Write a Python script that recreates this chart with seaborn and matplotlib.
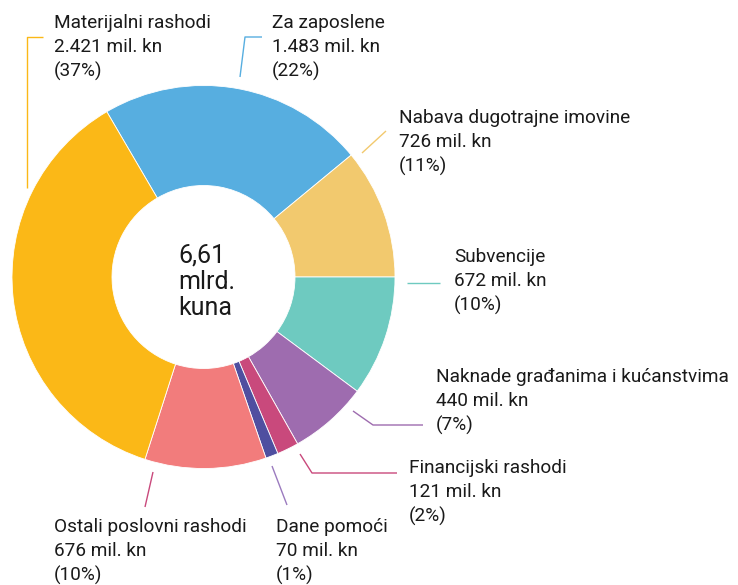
import matplotlib
matplotlib.use("Agg")
import matplotlib.pyplot as plt
import seaborn as sns

# data (clockwise from the top)
categories = ["Za zaposlene", "Nabava dugotrajne imovine", "Subvencije",
              "Naknade građanima i kućanstvima", "Financijski rashodi",
              "Dane pomoći", "Ostali poslovni rashodi", "Materijalni rashodi"]
values = [1483, 726, 672, 440, 121, 70, 676, 2421]  # mil. kn
colors = ["#57aee0", "#f2c96e", "#6ecac0", "#9e6caf", "#c9497c",
          "#4f4fa0", "#f27c7c", "#fbb817"]
leader_colors = ["#57aee0", "#f2c96e", "#6ecac0", "#9e6caf", "#c9497c",
                 "#9b7bbf", "#c9497c", "#fbb817"]

W, H = 738, 585
CX, CY, R, R_IN = 203.5, 277, 191.5, 91.5

# label layout in pixels: text x, first baseline, leader path
label_x = [272, 399, 454, 436, 409, 276, 54, 54]
label_y = [28, 123, 262, 382, 473, 532, 532, 28]
leaders = [
    [(262, 37), (245, 37), (240, 77)],
    [(386, 131), (362, 153)],
    [(407, 283), (440, 283)],
    [(353, 411), (373, 425), (423, 425)],
    [(300, 454), (312, 473), (397, 473)],
    [(272, 466), (287, 505)],
    [(153, 472), (145, 507)],
    [(43, 37), (27, 37), (27, 188)],
]

sns.set_theme(style="white")
plt.rcParams["font.family"] = ["Roboto", "DejaVu Sans"]

fig = plt.figure(figsize=(W / 100, H / 100), dpi=100)
ax = fig.add_axes([0, 0, 1, 1])

total = sum(values)
start = 360 * (values[0] + values[1]) / total
ax.pie(values, colors=colors, startangle=start, counterclock=False,
       center=(CX, H - CY), radius=R, frame=True,
       wedgeprops=dict(width=R - R_IN, edgecolor="white", linewidth=0.6))

ax.set_xlim(0, W)
ax.set_ylim(0, H)
ax.set_aspect("equal")
ax.axis("off")

ink = "#1a1a1a"
for name, v, x, y, path, c in zip(categories, values, label_x, label_y,
                                  leaders, leader_colors):
    amount = f"{v:,}".replace(",", ".") + " mil. kn"
    pct = f"({round(v / total * 100)}%)"
    for i, line in enumerate([name, amount, pct]):
        ax.text(x, H - (y + i * 24.2), line, fontsize=13.7, color=ink,
                ha="left", va="baseline")
    xs = [p[0] for p in path]
    ys = [H - p[1] for p in path]
    ax.plot(xs, ys, color=c, lw=1.0, solid_capstyle="butt")

center_txt = [f"{total / 1000:.2f}".replace(".", ","), "mlrd.", "kuna"]
for i, line in enumerate(center_txt):
    ax.text(178, H - (263 + i * 26), line, fontsize=18, color=ink,
            ha="left", va="baseline")

plt.savefig("out.png", dpi=100)
plt.close()
